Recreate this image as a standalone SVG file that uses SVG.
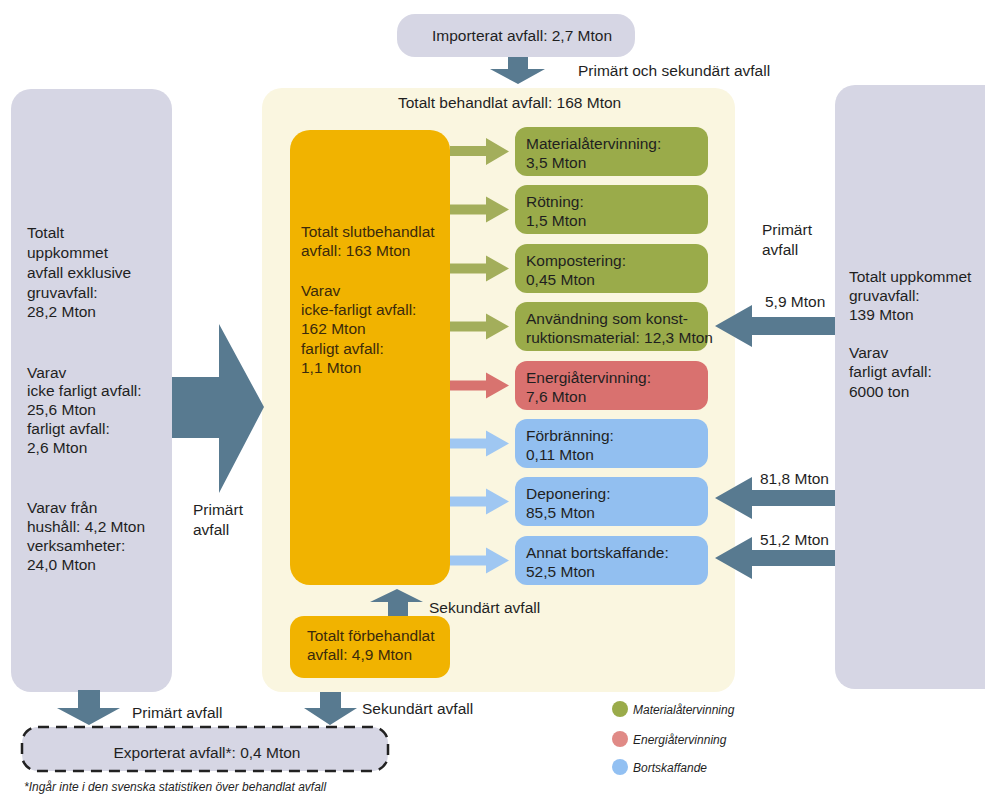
<svg xmlns="http://www.w3.org/2000/svg" width="985" height="794" viewBox="0 0 985 794">
<style>
text{font-family:"Liberation Sans",Arial,sans-serif;font-size:15.5px;fill:#1f1f1f}
.y text,text.y{fill:#3b2a0c}
.src{fill:#d6d6e4}
.yel{fill:#f1b300}
.grn{fill:#9aab4a}
.red{fill:#d9716f}
.blu{fill:#92bff0}
.big{fill:#587a90}
.ag{fill:#a3ae5b}
.ar{fill:#d8736f}
.ab{fill:#9fc7f2}
.it{font-style:italic;font-size:12px}
.fn{font-style:italic;font-size:12px}
</style>
<rect x="0" y="0" width="985" height="794" fill="#ffffff"/>
<g id="panel">
<rect x="262" y="88" width="473" height="604" rx="20" fill="#faf6e0"/>
<text x="398" y="108">Totalt behandlat avfall: 168 Mton</text>
</g>
<g id="import">
<rect x="397" y="14" width="238" height="43" rx="18" class="src"/>
<text x="432" y="41">Importerat avfall: 2,7 Mton</text>
</g>
<g id="left-source">
<rect x="11" y="89" width="161" height="603" rx="20" class="src"/>
<text x="27" y="238">Totalt</text>
<text x="27" y="258">uppkommet</text>
<text x="27" y="278">avfall exklusive</text>
<text x="27" y="298">gruvavfall:</text>
<text x="27" y="317">28,2 Mton</text>
<text x="27" y="378">Varav</text>
<text x="27" y="396">icke farligt avfall:</text>
<text x="27" y="415">25,6 Mton</text>
<text x="27" y="434">farligt avfall:</text>
<text x="27" y="453">2,6 Mton</text>
<text x="27" y="513">Varav från</text>
<text x="27" y="532">hushåll: 4,2 Mton</text>
<text x="27" y="551">verksamheter:</text>
<text x="27" y="570">24,0 Mton</text>
</g>
<g id="right-source">
<rect x="835" y="85" width="170" height="604" rx="20" class="src"/>
<text x="849" y="282">Totalt uppkommet</text>
<text x="849" y="301">gruvavfall:</text>
<text x="849" y="320">139 Mton</text>
<text x="849" y="358">Varav</text>
<text x="849" y="377">farligt avfall:</text>
<text x="849" y="397">6000  ton</text>
</g>
<g id="slutbehandlat" class="y">
<rect x="290" y="130" width="160" height="455" rx="20" class="yel"/>
<text x="301" y="237">Totalt slutbehandlat</text>
<text x="301" y="256">avfall: 163 Mton</text>
<text x="301" y="296">Varav</text>
<text x="301" y="315">icke-farligt avfall:</text>
<text x="301" y="334">162 Mton</text>
<text x="301" y="354">farligt avfall:</text>
<text x="301" y="373">1,1 Mton</text>
</g>
<g id="forbehandlat" class="y">
<rect x="290" y="616" width="160" height="62" rx="14" class="yel"/>
<text x="307" y="641">Totalt förbehandlat</text>
<text x="307" y="660">avfall: 4,9 Mton</text>
</g>
<g id="materialatervinning">
<rect x="515" y="127" width="193" height="49" rx="12" class="grn"/>
<text x="526" y="149">Materialåtervinning:</text>
<text x="526" y="168">3,5 Mton</text>
</g>
<g id="rotning">
<rect x="515" y="185" width="193" height="49" rx="12" class="grn"/>
<text x="526" y="207">Rötning:</text>
<text x="526" y="226">1,5 Mton</text>
</g>
<g id="kompostering">
<rect x="515" y="244" width="193" height="49" rx="12" class="grn"/>
<text x="526" y="266">Kompostering:</text>
<text x="526" y="285">0,45 Mton</text>
</g>
<g id="anvandning">
<rect x="515" y="302" width="193" height="49" rx="12" class="grn"/>
<text x="526" y="324">Användning som konst-</text>
<text x="526" y="343">ruktionsmaterial: 12,3 Mton</text>
</g>
<g id="energiatervinning">
<rect x="515" y="361" width="193" height="49" rx="12" class="red"/>
<text x="526" y="383">Energiåtervinning:</text>
<text x="526" y="402">7,6 Mton</text>
</g>
<g id="forbranning">
<rect x="515" y="419" width="193" height="49" rx="12" class="blu"/>
<text x="526" y="441">Förbränning:</text>
<text x="526" y="460">0,11 Mton</text>
</g>
<g id="deponering">
<rect x="515" y="477" width="193" height="49" rx="12" class="blu"/>
<text x="526" y="499">Deponering:</text>
<text x="526" y="518">85,5 Mton</text>
</g>
<g id="annat">
<rect x="515" y="536" width="193" height="49" rx="12" class="blu"/>
<text x="526" y="558">Annat bortskaffande:</text>
<text x="526" y="577">52,5 Mton</text>
</g>
<g id="export">
<rect x="22" y="727" width="366" height="44" rx="16" fill="#d6d6e4" stroke="#222" stroke-width="2.5" stroke-dasharray="11 7"/>
<text x="207" y="758" text-anchor="middle">Exporterat avfall*: 0,4 Mton</text>
</g>
<g id="connectors">
<polygon class="big" points="508,57 528,57 528,69 545,69 518,84 490,69 508,69"/>
<text x="578" y="76">Primärt och sekundärt avfall</text>
<polygon class="big" points="172,377 219,377 219,324 264,407 219,493 219,438 172,438"/>
<text x="193" y="515">Primärt</text>
<text x="193" y="535">avfall</text>
<polygon class="ag" points="450,146 486,146 486,138 509,151.5 486,165 486,156 450,156"/>
<polygon class="ag" points="450,204.5 486,204.5 486,196.5 509,209.5 486,222.5 486,214.5 450,214.5"/>
<polygon class="ag" points="450,263.5 486,263.5 486,255.5 509,268.5 486,281.5 486,273.5 450,273.5"/>
<polygon class="ag" points="450,321.5 486,321.5 486,313.5 509,326.5 486,339.5 486,331.5 450,331.5"/>
<polygon class="ar" points="450,380.5 486,380.5 486,372.5 509,385.5 486,398.5 486,390.5 450,390.5"/>
<polygon class="ab" points="450,438.5 486,438.5 486,430.5 509,443.5 486,456.5 486,448.5 450,448.5"/>
<polygon class="ab" points="450,496.5 486,496.5 486,488.5 509,501.5 486,514.5 486,506.5 450,506.5"/>
<polygon class="ab" points="450,555.5 486,555.5 486,547.5 509,560.5 486,573.5 486,565.5 450,565.5"/>
<polygon class="big" points="388,616 408,616 408,602 423,602 397,589 370,602 388,602"/>
<text x="429" y="613">Sekundärt avfall</text>
<polygon class="big" points="835,317 752,317 752,305 715,326 752,347 752,335 835,335"/>
<text x="765" y="307">5,9 Mton</text>
<polygon class="big" points="835,490 752,490 752,477 715,498 752,519 752,506 835,506"/>
<text x="760" y="484">81,8 Mton</text>
<polygon class="big" points="835,550 752,550 752,537 715,558 752,579 752,566 835,566"/>
<text x="760" y="545">51,2 Mton</text>
<text x="762" y="235">Primärt</text>
<text x="762" y="255">avfall</text>
<polygon class="big" points="78,690 100,690 100,708 120,708 89,725 57,708 78,708"/>
<text x="132" y="718">Primärt avfall</text>
<polygon class="big" points="320,692 341,692 341,708 357,708 330,725 304,708 320,708"/>
<text x="362" y="714">Sekundärt avfall</text>
</g>
<text class="fn" x="24" y="791">*Ingår inte i den svenska statistiken över behandlat avfall</text>
<g id="legend">
<circle cx="620" cy="709" r="8" fill="#9aab4a"/>
<text class="it" x="633" y="714">Materialåtervinning</text>
<circle cx="620" cy="739" r="8" fill="#e08a86"/>
<text class="it" x="633" y="744">Energiåtervinning</text>
<circle cx="620" cy="767" r="8" fill="#92c0f2"/>
<text class="it" x="633" y="772">Bortskaffande</text>
</g>
</svg>
